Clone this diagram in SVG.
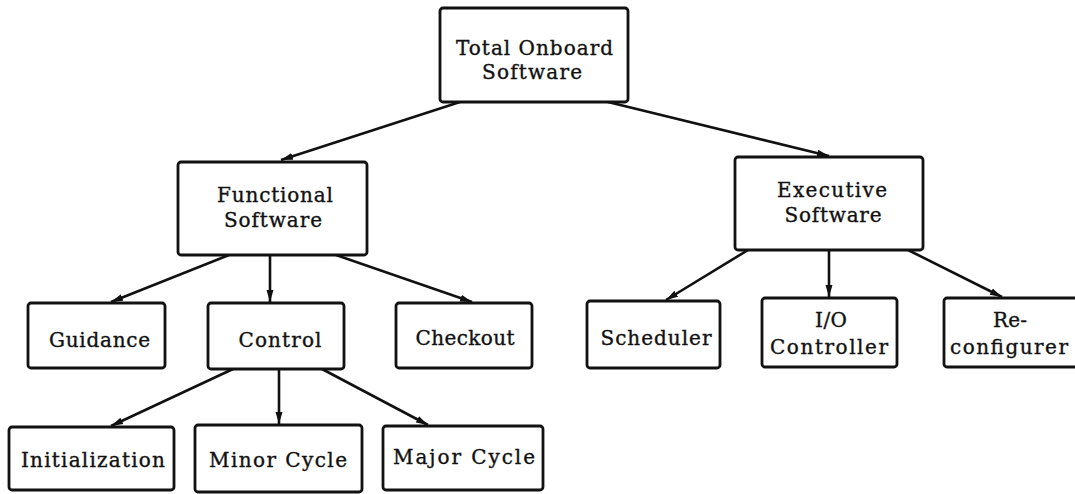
<svg xmlns="http://www.w3.org/2000/svg" width="1075" height="494" viewBox="0 0 1075 494">
  <style>
    .box { fill: #ffffff; stroke: #111111; stroke-width: 2.8; }
    .lbl { font-family: "DejaVu Serif", "Liberation Serif", serif; font-size: 20px; fill: #111111; stroke: #111111; stroke-width: 0.35; text-anchor: middle; }
    .link { stroke: #111111; stroke-width: 2.6; fill: none; marker-end: url(#arrow); }
  </style>
  <defs>
    <marker id="arrow" markerUnits="userSpaceOnUse" markerWidth="13" markerHeight="9" refX="12" refY="4.5" orient="auto">
      <path d="M0,1 L12,4.5 L0,8 Z" fill="#111111"/>
    </marker>
  </defs>
  <rect width="1075" height="494" fill="#ffffff"/>

  <!-- connectors: parent to child -->
  <g id="connectors">
    <line class="link" x1="460" y1="102" x2="281" y2="160"/>
    <line class="link" x1="608" y1="102" x2="829" y2="156"/>
    <line class="link" x1="229" y1="255" x2="111" y2="302"/>
    <line class="link" x1="270" y1="255" x2="270" y2="302"/>
    <line class="link" x1="336" y1="255" x2="472" y2="302"/>
    <line class="link" x1="748" y1="250" x2="666" y2="300"/>
    <line class="link" x1="829" y1="250" x2="829" y2="297"/>
    <line class="link" x1="908" y1="250" x2="1002" y2="297"/>
    <line class="link" x1="233" y1="369" x2="111" y2="426"/>
    <line class="link" x1="279" y1="369" x2="279" y2="424"/>
    <line class="link" x1="322" y1="369" x2="428" y2="425"/>
  </g>

  <g id="total-onboard">
    <rect class="box" x="440" y="8" width="188" height="94" rx="3"/>
    <text class="lbl" x="534.5" y="55" textLength="157" lengthAdjust="spacing">Total Onboard</text>
    <text class="lbl" x="532" y="79" textLength="100" lengthAdjust="spacing">Software</text>
  </g>

  <g id="functional">
    <rect class="box" x="178" y="162" width="189" height="93" rx="3"/>
    <text class="lbl" x="275" y="202" textLength="116" lengthAdjust="spacing">Functional</text>
    <text class="lbl" x="273" y="227" textLength="98" lengthAdjust="spacing">Software</text>
  </g>

  <g id="executive">
    <rect class="box" x="735" y="157" width="188" height="93" rx="3"/>
    <text class="lbl" x="832" y="197" textLength="110" lengthAdjust="spacing">Executive</text>
    <text class="lbl" x="833" y="222" textLength="97" lengthAdjust="spacing">Software</text>
  </g>

  <g id="guidance">
    <rect class="box" x="28" y="303" width="137" height="65" rx="3"/>
    <text class="lbl" x="99.5" y="347" textLength="101" lengthAdjust="spacing">Guidance</text>
  </g>

  <g id="control">
    <rect class="box" x="208" y="303" width="136" height="66" rx="3"/>
    <text class="lbl" x="280" y="347" textLength="83" lengthAdjust="spacing">Control</text>
  </g>

  <g id="checkout">
    <rect class="box" x="396" y="303" width="136" height="65" rx="3"/>
    <text class="lbl" x="465" y="345" textLength="99" lengthAdjust="spacing">Checkout</text>
  </g>

  <g id="scheduler">
    <rect class="box" x="587" y="301" width="133" height="67" rx="3"/>
    <text class="lbl" x="656" y="345" textLength="111" lengthAdjust="spacing">Scheduler</text>
  </g>

  <g id="io-controller">
    <rect class="box" x="762" y="298" width="135" height="69" rx="3"/>
    <text class="lbl" x="831" y="327" textLength="32" lengthAdjust="spacing">I/O</text>
    <text class="lbl" x="829" y="354" textLength="118" lengthAdjust="spacing">Controller</text>
  </g>

  <g id="reconfigurer">
    <rect class="box" x="944" y="298" width="140" height="69" rx="3"/>
    <text class="lbl" x="1010" y="327" textLength="34" lengthAdjust="spacing">Re-</text>
    <text class="lbl" x="1009" y="354" textLength="118" lengthAdjust="spacing">configurer</text>
  </g>

  <g id="initialization">
    <rect class="box" x="9" y="427" width="165" height="63" rx="3"/>
    <text class="lbl" x="93" y="467" textLength="144" lengthAdjust="spacing">Initialization</text>
  </g>

  <g id="minor-cycle">
    <rect class="box" x="195" y="425" width="167" height="67" rx="3"/>
    <text class="lbl" x="278" y="467" textLength="138" lengthAdjust="spacing">Minor Cycle</text>
  </g>

  <g id="major-cycle">
    <rect class="box" x="383" y="426" width="160" height="64" rx="3"/>
    <text class="lbl" x="464" y="464" textLength="142" lengthAdjust="spacing">Major Cycle</text>
  </g>
</svg>
